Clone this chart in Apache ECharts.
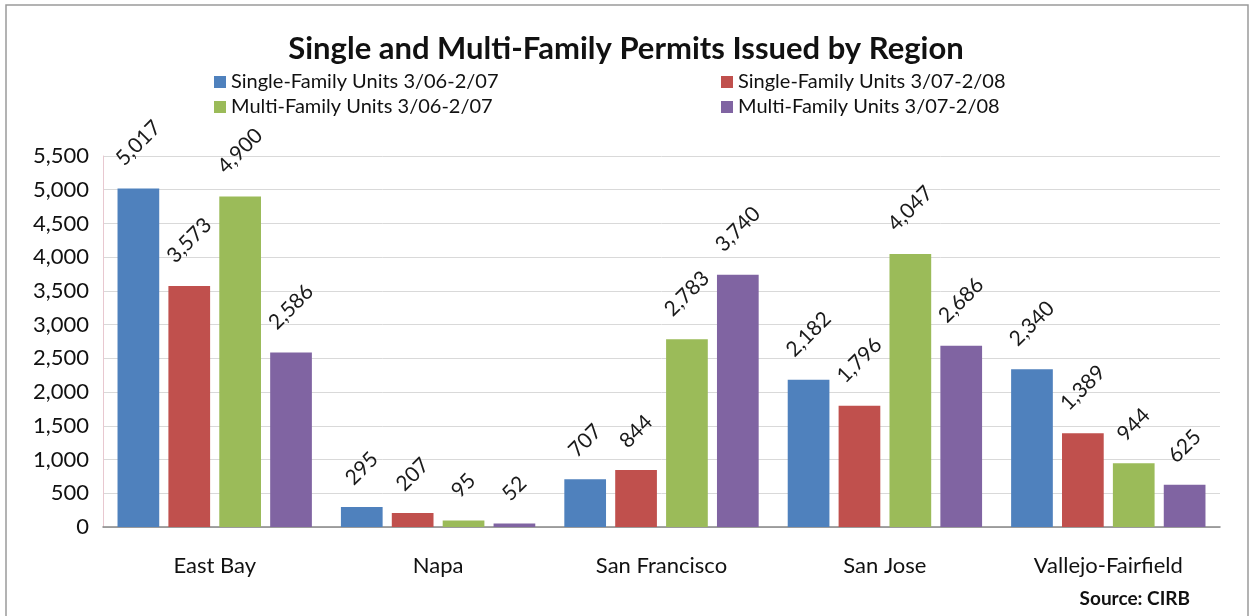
<!DOCTYPE html>
<html>
<head>
<meta charset="utf-8">
<script src="https://cdn.jsdelivr.net/npm/echarts@6/dist/echarts.min.js"></script>
<style>
  html, body { margin: 0; padding: 0; background: #fff; }
  #chart { width: 1252px; height: 616px; }
</style>
</head>
<body>
<div id="chart"></div>
<script>
  var regions = ['East Bay', 'Napa', 'San Francisco', 'San Jose', 'Vallejo-Fairfield']
  var sf0607 = [5017, 295, 707, 2182, 2340]   // Single-Family 3/06-2/07
  var sf0708 = [3573, 207, 844, 1796, 1389]   // Single-Family 3/07-2/08
  var mf0607 = [4900, 95, 2783, 4047, 944]    // Multi-Family 3/06-2/07
  var mf0708 = [2586, 52, 3740, 2686, 625]    // Multi-Family 3/07-2/08
  var names = [
    'Single-Family Units 3/06-2/07',
    'Single-Family Units 3/07-2/08',
    'Multi-Family Units 3/06-2/07',
    'Multi-Family Units 3/07-2/08'
  ]
  var colors = ['#4F81BD', '#C0504D', '#9BBB59', '#8064A2']
  var font = 'Lato, "Open Sans", sans-serif'

  var chart = echarts.init(document.getElementById('chart'))

  function fmt(v) { return v.toLocaleString('en-US') }

  function mkSeries(name, data) {
    return {
      name: name,
      type: 'bar',
      // longer labels sit a bit higher, like excel does it
      data: data.map(function (v) {
        return { value: v, label: { distance: 28 + 3.5 * fmt(v).length } }
      }),
      barGap: '22%',
      barCategoryGap: '13%',
      label: {
        show: true,
        position: 'top',
        rotate: 45,
        align: 'center',
        verticalAlign: 'middle',
        fontFamily: font,
        fontSize: 21,
        color: '#1a1a1a',
        formatter: function (p) { return fmt(p.value) }
      }
    }
  }

  chart.setOption({
    color: colors,
    animation: false,
    textStyle: { fontFamily: font },
    title: {
      text: 'Single and Multi-Family Permits Issued by Region',
      left: 'center',
      top: 28,
      textStyle: { fontFamily: font, fontSize: 31, fontWeight: 'bold', color: '#111' }
    },
    legend: [
      {
        data: [names[0], names[2]],
        orient: 'vertical',
        left: 209, top: 67,
        itemWidth: 12, itemHeight: 12, itemGap: 5,
        icon: 'rect',
        textStyle: { fontFamily: font, fontSize: 20, color: '#111' }
      },
      {
        data: [names[1], names[3]],
        orient: 'vertical',
        left: 716, top: 67,
        itemWidth: 12, itemHeight: 12, itemGap: 5,
        icon: 'rect',
        textStyle: { fontFamily: font, fontSize: 20, color: '#111' }
      }
    ],
    grid: { left: 103, right: 32, top: 156, bottom: 89 },
    xAxis: {
      type: 'category',
      data: regions,
      axisLine: { lineStyle: { color: '#868686', width: 1.5 } },
      axisTick: { show: false },
      axisLabel: { fontFamily: font, fontSize: 22, color: '#111', margin: 28 }
    },
    yAxis: {
      type: 'value',
      min: 0,
      max: 5500,
      interval: 500,
      axisLine: { show: true, lineStyle: { color: '#e8c8d0' } },
      axisTick: { show: false },
      splitLine: { lineStyle: { color: '#d9d9d9' } },
      axisLabel: {
        fontFamily: font, fontSize: 22, color: '#111', margin: 14,
        formatter: fmt
      }
    },
    graphic: [
      {
        type: 'rect',
        shape: { x: 6, y: 5, width: 1242, height: 640 },
        style: { fill: 'none', stroke: '#9a9a9a', lineWidth: 1.5 },
        silent: true
      },
      {
        type: 'text',
        right: 62, bottom: 8,
        style: { text: 'Source: CIRB', fontFamily: font, fontSize: 19, fontWeight: 'bold', fill: '#111' }
      }
    ],
    series: [
      mkSeries(names[0], sf0607),
      mkSeries(names[1], sf0708),
      mkSeries(names[2], mf0607),
      mkSeries(names[3], mf0708)
    ]
  })
</script>
</body>
</html>
